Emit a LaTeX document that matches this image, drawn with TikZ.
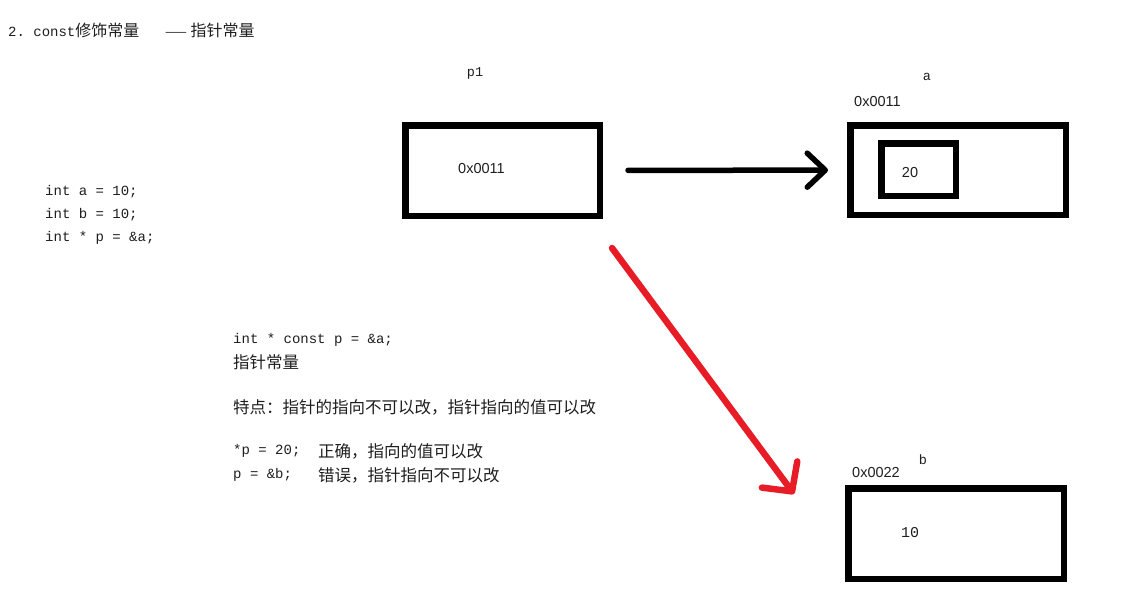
\documentclass[tikz,border=0pt]{standalone}
\usepackage{fontspec}
\setmainfont{Liberation Sans}
\setsansfont{Liberation Sans}
\setmonofont{Liberation Mono}
\newfontfamily\cjk{Noto Sans CJK SC}
\usetikzlibrary{arrows.meta}

\definecolor{penred}{RGB}{232,28,38}
\definecolor{inkgray}{RGB}{30,30,30}

\begin{document}
\begin{tikzpicture}[
    x=1pt, y=-1pt,
    mem/.style={rectangle, draw, line width=6.5pt, inner sep=0pt},
    code/.style={anchor=west, inner sep=0pt, text=inkgray, font=\ttfamily\fontsize{14}{16}\selectfont},
    note/.style={anchor=west, inner sep=0pt, text=inkgray, font=\cjk\fontsize{16.5}{18}\selectfont},
    addr/.style={anchor=west, inner sep=0pt, text=inkgray, font=\sffamily\fontsize{14.5}{16}\selectfont},
    varname/.style={inner sep=0pt, text=inkgray, font=\ttfamily\fontsize{13.5}{15}\selectfont},
    ptr/.style={-{Straight Barb[length=18pt, width=34pt, round]}, line width=5.5pt, line cap=round},
    redptr/.style={-{Straight Barb[length=21pt, width=44pt, round]}, line width=6.5pt, line cap=round, draw=penred}
]
\useasboundingbox (0,0) rectangle (1123,608);

% Title
\node[code] (title) at (8,30) {2. const{\cjk\fontsize{16}{18}\selectfont 修饰常量}};
\node[note, font=\cjk\fontsize{16}{18}\selectfont] (subtitle) at (165,30) {{\fontsize{13}{15}\selectfont ——}\ 指针常量};

% Declarations
\node[code] (decla) at (45,192) {int a = 10;};
\node[code] (declb) at (45,215) {int b = 10;};
\node[code] (declp) at (45,238) {int * p = \&a;};

% Memory cells
\node[mem, minimum width=194.5, minimum height=90.5] (p1) at (502.5,170.5) {};
\node[mem, minimum width=215.5, minimum height=89.5] (a) at (958,170) {};
\node[mem, minimum width=74.5, minimum height=52.5] (aval) at (918.5,169.5) {};
\node[mem, minimum width=215.5, minimum height=90.5] (b) at (956,533.5) {};

% Cell labels
\node[varname] (p1name) at (475,73) {p1};
\node[addr] (p1addr) at (458,169) {0x0011};
\node[varname] (aname) at (927,77) {a};
\node[addr] (aaddr) at (854,102) {0x0011};
\node[inner sep=0pt, text=inkgray, font=\sffamily\fontsize{14.5}{16}\selectfont] (a20) at (910,173) {20};
\node[varname] (bname) at (923,460) {b};
\node[addr] (baddr) at (852,472) {0x0022};
\node[varname, font=\ttfamily\fontsize{15}{17}\selectfont] (b10) at (910,533) {10};

% Explanation
\node[code] (constp) at (233,340) {int * const p = \&a;};
\node[note] (kind) at (233,362) {指针常量};
\node[note] (feature) at (233,407) {特点：指针的指向不可以改，指针指向的值可以改};
\node[code] (deref) at (233,451) {*p = 20;};
\node[note] (okay) at (318,451) {正确，指向的值可以改};
\node[code] (reassign) at (233,475) {p = \&b;};
\node[note] (wrong) at (318,475) {错误，指针指向不可以改};

% Pointers
\coordinate (redfrom) at (612,248);
\coordinate (redto) at (794,494);
\draw[ptr, shorten <=25pt, shorten >=19pt] (p1) -- (a);
\draw[redptr] (redfrom) -- (redto);

\end{tikzpicture}
\end{document}
